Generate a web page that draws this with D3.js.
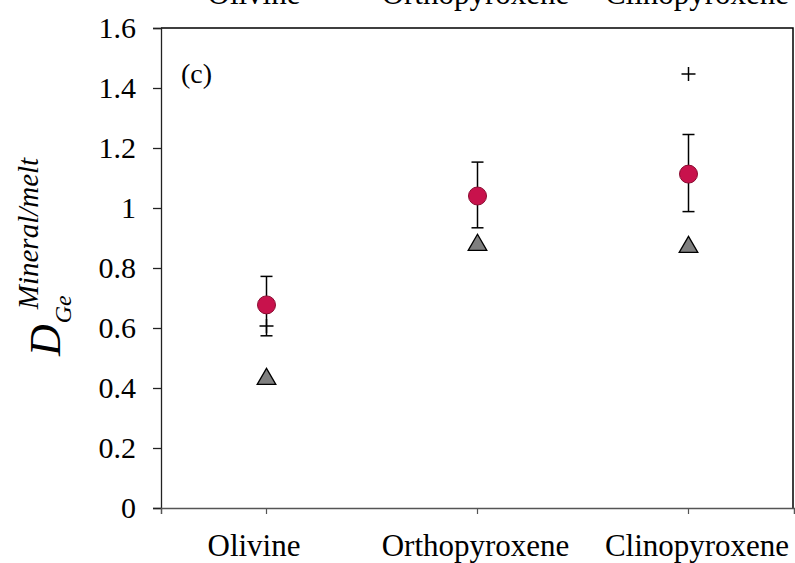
<!DOCTYPE html>
<html>
<head>
<meta charset="utf-8">
<script src="https://cdn.jsdelivr.net/npm/d3@7"></script>
<style>
  html, body { margin: 0; padding: 0; background: #fff; }
  svg { display: block; }
  svg text { font-family: "Liberation Serif", "DejaVu Serif", serif; }
</style>
</head>
<body>
<svg id="chart" width="795" height="563"></svg>
<script>
// Ge partition coefficients between minerals and melt
const minerals   = ["Olivine", "Orthopyroxene", "Clinopyroxene"];
const meanD      = [0.677, 1.040, 1.113];   // mean of this study (red circles)
const meanLow    = [0.574, 0.934, 0.988];   // lower error bound
const meanHigh   = [0.772, 1.153, 1.245];   // upper error bound
const triangleD  = [0.433, 0.880, 0.873];   // grey triangles
const plusD      = [0.607, null, 1.447];    // crosses (no value for orthopyroxene)
const yTicks     = [0, 0.2, 0.4, 0.6, 0.8, 1, 1.2, 1.4, 1.6];

const svg = d3.select("#chart");
const plotL = 161, plotR = 794, plotT = 28, plotB = 508;

const x = d3.scaleBand().domain(minerals).range([plotL, plotR]);
const xc = d => x(d) + x.bandwidth() / 2;
const y = d3.scaleLinear().domain([0, 1.6]).range([plotB, plotT]);
// category label centres (labels sit slightly spread relative to the ticks)
const xl = d3.scalePoint().domain(minerals).range([254, 697]);

// category labels of the panel above, clipped at the top edge
svg.append("g").selectAll("text").data(minerals).join("text")
  .attr("x", d => xl(d)).attr("y", 4)
  .attr("text-anchor", "middle").attr("font-size", 31)
  .text(d => d);

// plot frame: top and right borders
svg.append("path")
  .attr("d", `M${plotL},${plotT}H${plotR - 1}V${plotB}`)
  .attr("fill", "none").attr("stroke", "#000").attr("stroke-width", 1.5);

// y axis
const yAxis = svg.append("g").attr("transform", `translate(${plotL},0)`)
  .call(d3.axisLeft(y).tickValues(yTicks).tickSize(8).tickPadding(17)
    .tickFormat(d => d === 0 || d === 1 ? d3.format("d")(d) : d3.format(".1f")(d)));
yAxis.attr("font-family", null);
yAxis.selectAll("path, line").attr("stroke", "#222").attr("stroke-width", 1.3);
yAxis.selectAll("text").attr("font-size", 30).attr("fill", "#000");

// x axis with ticks at the categories and at both ends
const xAxis = svg.append("g").attr("transform", `translate(0,${plotB})`)
  .call(d3.axisBottom(x).tickSize(6).tickPadding(20).tickSizeOuter(6));
xAxis.attr("font-family", null);
xAxis.select(".domain").attr("stroke", "#555").attr("stroke-width", 1.5);
xAxis.selectAll("line").attr("stroke", "#555").attr("stroke-width", 1.2);
xAxis.selectAll("text").attr("font-size", 31).attr("fill", "#000")
  .attr("x", d => xl(d) - xc(d)).attr("y", 48).attr("dy", null);

// panel label
svg.append("text").attr("x", 181).attr("y", 83).attr("font-size", 28).text("(c)");

// y axis title: D_Ge^(Mineral/melt)
const title = svg.append("text")
  .attr("transform", "translate(60,356) rotate(-90)")
  .style("font-style", "italic");
title.append("tspan").attr("font-size", 44).text("D");
title.append("tspan").attr("font-size", 24).attr("dy", 11).attr("dx", 1).text("Ge");
title.append("tspan").attr("font-size", 29).attr("dy", -33).attr("dx", -14).text("Mineral/melt");

const marks = svg.append("g");

// error bars
minerals.forEach((m, i) => {
  const cx = xc(m);
  const g = marks.append("g").attr("stroke", "#000").attr("stroke-width", 1.5);
  g.append("line").attr("x1", cx).attr("x2", cx).attr("y1", y(meanLow[i])).attr("y2", y(meanHigh[i]));
  [meanLow[i], meanHigh[i]].forEach(v => {
    g.append("line").attr("x1", cx - 6).attr("x2", cx + 6).attr("y1", y(v)).attr("y2", y(v));
  });
});

// crosses
minerals.forEach((m, i) => {
  if (plusD[i] == null) return;
  const cx = xc(m), cy = y(plusD[i]);
  marks.append("path")
    .attr("d", `M${cx - 7},${cy}H${cx + 7}M${cx},${cy - 7}V${cy + 7}`)
    .attr("stroke", "#000").attr("stroke-width", 1.5);
});

// mean circles
marks.selectAll("circle.mean").data(minerals).join("circle")
  .attr("class", "mean")
  .attr("cx", d => xc(d)).attr("cy", (d, i) => y(meanD[i])).attr("r", 9)
  .attr("fill", "#c8124c").attr("stroke", "#8a0a30").attr("stroke-width", 1);

// triangles
const tri = d3.symbol().type(d3.symbolTriangle).size(150);
marks.selectAll("path.tri").data(minerals).join("path")
  .attr("class", "tri")
  .attr("transform", (d, i) => `translate(${xc(d)},${y(triangleD[i]) + 1})`)
  .attr("d", tri)
  .attr("fill", "#7f7f7f").attr("stroke", "#000").attr("stroke-width", 1.3);
</script>
</body>
</html>
